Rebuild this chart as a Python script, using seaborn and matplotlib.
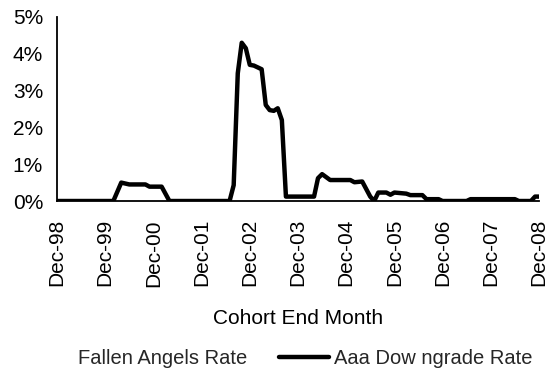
import matplotlib
matplotlib.use("Agg")
import matplotlib.pyplot as plt
import matplotlib.dates as mdates
from matplotlib.lines import Line2D
from matplotlib.ticker import FuncFormatter
import pandas as pd
import seaborn as sns

# Data (Aaa downgrade rate, %)
months = ["1998-12", "2000-02", "2000-04", "2000-06", "2000-10", "2000-11", "2001-02",
          "2001-04", "2002-07", "2002-08", "2002-09", "2002-10", "2002-11", "2002-12",
          "2003-01", "2003-03", "2003-04", "2003-05", "2003-06", "2003-07", "2003-08",
          "2003-09", "2004-04", "2004-05", "2004-06", "2004-08", "2005-01", "2005-02",
          "2005-04", "2005-06", "2005-07", "2005-08", "2005-10", "2005-11", "2005-12",
          "2006-03", "2006-04", "2006-07", "2006-08", "2006-11", "2006-12", "2007-06",
          "2007-07", "2008-06", "2008-07", "2008-10", "2008-11", "2008-12"]
aaa_rate = [0.0, 0.0, 0.50, 0.45, 0.45, 0.39, 0.39,
            0.0, 0.0, 0.43, 3.47, 4.30, 4.15, 3.70,
            3.68, 3.58, 2.61, 2.47, 2.45, 2.52, 2.20,
            0.12, 0.12, 0.62, 0.73, 0.57, 0.57, 0.51,
            0.53, 0.12, 0.0, 0.23, 0.23, 0.17, 0.23,
            0.20, 0.16, 0.16, 0.05, 0.05, 0.0, 0.0,
            0.05, 0.05, 0.0, 0.0, 0.12, 0.12]
tick_years = list(range(1998, 2009))
y_ticks = [0, 1, 2, 3, 4, 5]
series_names = ["Fallen Angels Rate", "Aaa Dow ngrade Rate"]
x_label = "Cohort End Month"

df = pd.DataFrame({"month": pd.to_datetime(months), "rate": aaa_rate})

sns.set_theme(style="white")
plt.rcParams["font.family"] = ["Liberation Sans", "DejaVu Sans"]

fig = plt.figure(figsize=(5.55, 3.76), dpi=100)
ax = fig.add_axes([0.1027, 0.4654, 0.8685, 0.4894])

sns.lineplot(data=df, x="month", y="rate", ax=ax, color="black", linewidth=3.2,
             legend=False)

ax.set_xlim(pd.Timestamp("1998-12-01"), pd.Timestamp("2008-12-01"))
ax.set_ylim(0, 5)
ax.set_xticks([pd.Timestamp(f"{y}-12-01") for y in tick_years])
ax.xaxis.set_major_formatter(mdates.DateFormatter("%b-%y"))
ax.set_yticks(y_ticks)
ax.yaxis.set_major_formatter(FuncFormatter(lambda v, p: f"{v:.0f}%"))

for s in ["top", "right"]:
    ax.spines[s].set_visible(False)
for s in ["left", "bottom"]:
    ax.spines[s].set_color("black")
    ax.spines[s].set_linewidth(1.3)

ax.tick_params(axis="both", direction="out", length=4, width=1.3, color="black",
               labelsize=15, labelcolor="black")
ax.tick_params(axis="y", pad=6)
ax.tick_params(axis="x", pad=9, labelrotation=90)

ax.set_xlabel(x_label, fontsize=15, color="black", labelpad=16)
ax.set_ylabel("")

handles = [Line2D([], [], color="white", linewidth=3.2),
           Line2D([], [], color="black", linewidth=3.2)]
fig.legend(handles, series_names, loc="center", bbox_to_anchor=(0.5, 0.046),
           ncol=2, frameon=False, fontsize=14.5, handlelength=2.5,
           handletextpad=0.25, columnspacing=1.6)

fig.savefig("out.png", dpi=100, facecolor="white")
